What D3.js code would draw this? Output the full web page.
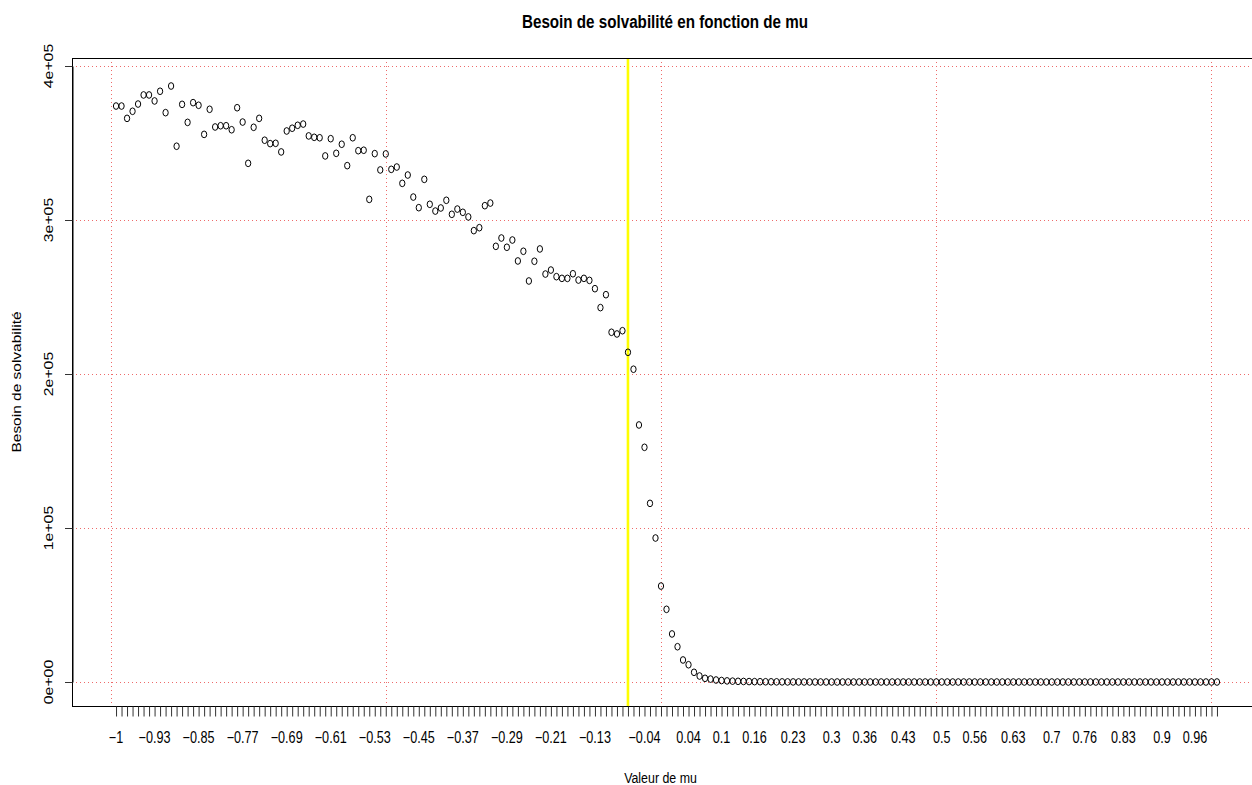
<!DOCTYPE html>
<html>
<head>
<meta charset="utf-8">
<script src="https://cdn.jsdelivr.net/npm/d3@7"></script>
<style>
  html, body { margin: 0; padding: 0; background: #ffffff; }
  svg { display: block; }
  text { font-family: "Liberation Sans", Arial, Helvetica, sans-serif; fill: #000; }
</style>
</head>
<body>
<svg id="chart" width="1252" height="785"></svg>
<script>
// ---- data (x = position index 1..201, mu = -1 .. 1 by 0.01) ----
const besoin = [
  374000, 374000, 366000, 370600, 375300, 381200, 381200, 377300, 383600, 369700,
  387000, 347900, 375100, 363400, 376200, 374500, 355600, 371900, 360400, 361200,
  361200, 358600, 372900, 363600, 336800, 360200, 366000, 351800, 349600, 349800,
  344200, 357800, 359600, 361500, 362300, 354600, 353700, 353400, 341600, 352800,
  343300, 349200, 335300, 353400, 345000, 345300, 313400, 343100, 332500, 342900,
  332900, 334400, 323800, 329200, 314900, 308000, 326400, 310200, 305800, 307800,
  312800, 303700, 307100, 305000, 302000, 293100, 295000, 309300, 311000, 282900,
  288300, 282300, 287000, 273400, 279700, 260400, 273200, 281200, 264900, 267500,
  263200, 262100, 262100, 265100, 261000, 262100, 260800, 255400, 243100, 251500,
  227100, 226000, 228100, 214100, 203100, 166900, 152400, 116000, 93500, 62300,
  47200, 31200, 22900, 14300, 11200, 6300, 3900, 2400, 1900, 1300,
  950, 720, 560, 440, 350, 280, 220, 180, 140, 110,
  90, 70, 55, 45, 36, 28, 22, 18, 14, 11,
  9, 7, 6, 5, 4, 3, 3, 2, 2, 2,
  1, 1, 1, 1, 1, 1, 1, 1, 1, 1,
  1, 1, 1, 1, 1, 0, 0, 0, 0, 0,
  0, 0, 0, 0, 0, 0, 0, 0, 0, 0,
  0, 0, 0, 0, 0, 0, 0, 0, 0, 0,
  0, 0, 0, 0, 0, 0, 0, 0, 0, 0,
  0, 0, 0, 0, 0, 0, 0, 0, 0, 0,
  0
];
const tickIdx    = [1, 8, 16, 24, 32, 40, 48, 56, 64, 72, 80, 88, 97, 105, 111, 117, 124, 131, 137, 144, 151, 157, 164, 171, 177, 184, 191, 197];
const tickLabels = ["\u22121", "\u22120.93", "\u22120.85", "\u22120.77", "\u22120.69", "\u22120.61", "\u22120.53", "\u22120.45", "\u22120.37", "\u22120.29", "\u22120.21", "\u22120.13", "\u22120.04", "0.04", "0.1", "0.16", "0.23", "0.3", "0.36", "0.43", "0.5", "0.56", "0.63", "0.7", "0.76", "0.83", "0.9", "0.96"];
const yTicks      = [0, 100000, 200000, 300000, 400000];
const yTickLabels = ["0e+00", "1e+05", "2e+05", "3e+05", "4e+05"];
const xGrid       = [0, 50, 100, 150, 200];
const vLineIdx    = 94;
const title  = "Besoin de solvabilit\u00e9 en fonction de mu";
const xTitle = "Valeur de mu";
const yTitle = "Besoin de solvabilit\u00e9";

// ---- layout ----
const SX = 0.8;           // horizontal squeeze of the reference rendering
const plot = { left: 72, right: 1261, top: 58, bottom: 706 };
const svg = d3.select("#chart");

const x = d3.scaleLinear().domain([-7, 209]).range([plot.left, plot.right]);
const y = d3.scaleLinear().domain([0, 400000]).range([682, 66]);

const idx = besoin.map((v, i) => i + 1);

// grid (dotted red)
const grid = svg.append("g").attr("stroke", "#ee6a6a").attr("stroke-width", 1)
  .attr("stroke-dasharray", "1,3").attr("fill", "none");
grid.selectAll("line.h").data(yTicks).join("line").attr("class", "h")
  .attr("x1", plot.left).attr("x2", plot.right)
  .attr("y1", d => Math.round(y(d)) + 0.5).attr("y2", d => Math.round(y(d)) + 0.5);
grid.selectAll("line.v").data(xGrid).join("line").attr("class", "v")
  .attr("y1", plot.top).attr("y2", plot.bottom)
  .attr("x1", d => Math.round(x(d)) + 0.5).attr("x2", d => Math.round(x(d)) + 0.5);

// yellow vertical line
svg.append("line")
  .attr("x1", x(vLineIdx)).attr("x2", x(vLineIdx))
  .attr("y1", plot.top).attr("y2", plot.bottom)
  .attr("stroke", "#ffff00").attr("stroke-width", 2.6);

// points (open circles, squeezed)
svg.append("g").selectAll("ellipse").data(besoin).join("ellipse")
  .attr("cx", (d, i) => x(idx[i]))
  .attr("cy", d => y(d))
  .attr("rx", 2.65).attr("ry", 3.35)
  .attr("fill", "none").attr("stroke", "#000").attr("stroke-width", 1);

// box
svg.append("rect")
  .attr("x", plot.left + 0.5).attr("y", plot.top + 0.5)
  .attr("width", plot.right - plot.left).attr("height", plot.bottom - plot.top)
  .attr("fill", "none").attr("stroke", "#000").attr("stroke-width", 1);

// x axis ticks (every point)
const xAxis = d3.axisBottom(x).tickValues(idx).tickSize(10).tickSizeOuter(0).tickFormat("");
const gx = svg.append("g").attr("transform", `translate(0,${plot.bottom + 0.5})`).call(xAxis);
gx.select(".domain").attr("d", `M${x(1)},0H${x(201)}`).attr("stroke", "#000");
gx.selectAll(".tick line").attr("stroke", "#333");

svg.append("g").selectAll("text").data(tickIdx).join("text")
  .attr("transform", d => `translate(${x(d)},743) scale(${SX},1)`)
  .attr("text-anchor", "middle").attr("font-size", 15.8)
  .text((d, i) => tickLabels[i]);

// y axis
const yAxis = d3.axisLeft(y).tickValues(yTicks).tickSize(7.5).tickSizeOuter(0).tickFormat("");
const gy = svg.append("g").attr("transform", `translate(${plot.left + 0.5},0)`).call(yAxis);
gy.select(".domain").attr("stroke", "#000");
gy.selectAll(".tick line").attr("stroke", "#333");

svg.append("g").selectAll("text").data(yTicks).join("text")
  .attr("transform", d => `translate(53,${y(d)}) scale(${SX},1) rotate(-90)`)
  .attr("text-anchor", "middle").attr("font-size", 15.8)
  .text((d, i) => yTickLabels[i]);

// titles
svg.append("text")
  .attr("transform", `translate(665,28) scale(${SX},1)`)
  .attr("text-anchor", "middle").attr("font-size", 19).attr("font-weight", "bold")
  .text(title);
svg.append("text")
  .attr("transform", `translate(660.5,783) scale(${SX},1)`)
  .attr("text-anchor", "middle").attr("font-size", 15.5)
  .text(xTitle);
svg.append("text")
  .attr("transform", `translate(21,382) scale(${SX},1) rotate(-90)`)
  .attr("text-anchor", "middle").attr("font-size", 15.5)
  .text(yTitle);
</script>
</body>
</html>
